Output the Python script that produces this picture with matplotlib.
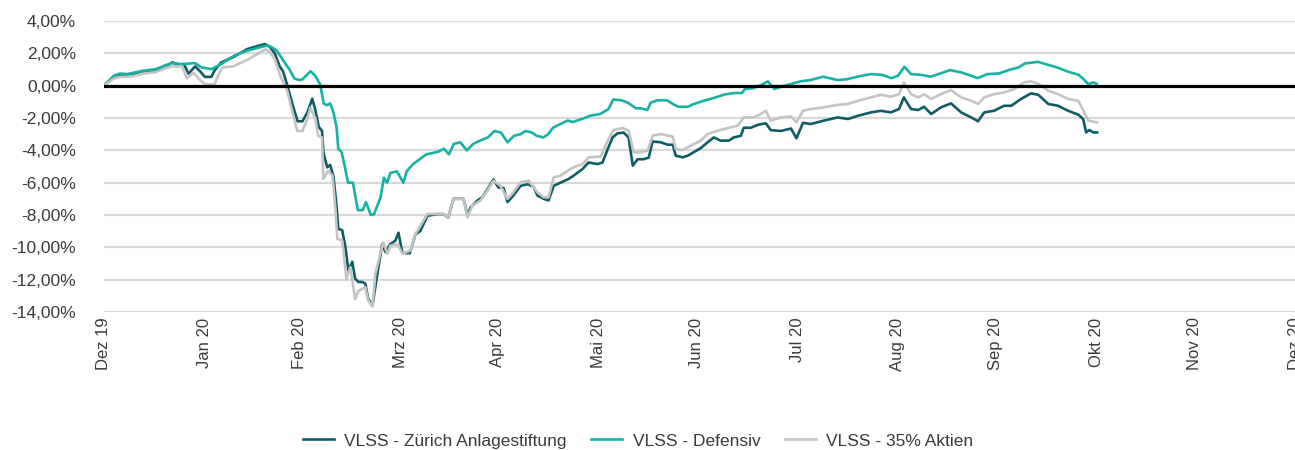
import numpy as np
import pandas as pd
import matplotlib
matplotlib.use("Agg")
import matplotlib.pyplot as plt
import matplotlib.dates as mdates
from matplotlib.ticker import FuncFormatter

plt.rcParams['font.family'] = ['Liberation Sans', 'DejaVu Sans']

# days since 31.12.2019 and cumulative performance in %
zurich_days = [0, 3, 5, 7, 9, 12, 16, 19, 21, 23, 24.5, 26, 28, 29.5, 31, 33, 34, 36, 40, 44, 47,
               49.5, 51, 52.5, 54, 55, 56.3, 58, 59.5, 61, 62.5, 64, 65, 66, 67, 67.5, 68.6, 69.5,
               70.5, 71.4, 72, 73.2, 74.2, 75.1, 76.3, 77.2, 78.2, 79.4, 80.3, 81.2, 82.5, 84,
               85.5, 86.5, 88, 89.5, 90.5, 91.7, 94, 95.7, 97.2, 99.4, 102.5, 104.3, 105.8, 107.4,
               110.5, 111.7, 112.6, 114.8, 116.3, 118.2, 119.7, 121.2, 122.8, 124, 125.8, 128,
               130.2, 132, 133.2, 135.1, 136.6, 138.2, 140.3, 142.8, 144.3, 147.1, 148.9, 151.7,
               153.2, 154.8, 156.3, 157.8, 159.7, 161.2, 162.5, 164, 165.8, 167.4, 168.6, 171.1,
               173.2, 174.8, 175.7, 177.8, 179.4, 181.2, 183.4, 185.5, 187.4, 189.5, 192, 193.5,
               195.7, 196.6, 198.8, 201.2, 203.4, 204.9, 208, 211.1, 212.8, 214.8, 217.2, 221.2,
               225.5, 228.6, 231.7, 235.7, 238.8, 241.8, 244.3, 245.8, 248, 250.2, 252, 254.2,
               257.2, 260.3, 263.4, 266.5, 268.6, 270.5, 273.5, 276.6, 278.8, 281.8, 284.9, 287.1,
               290.2, 293.2, 296.3, 299.4, 300.9, 301.8, 302.8, 304, 305.2]
zurich = [0, 0.55, 0.6, 0.6, 0.7, 0.8, 0.95, 1.2, 1.45, 1.3, 1.35, 0.75, 1.2, 0.9, 0.55, 0.55, 0.95,
          1.44, 1.8, 2.27, 2.45, 2.58, 2.4, 2.0, 1.2, 0.9, 0.05, -1.2, -2.2, -2.2, -1.65, -0.8,
          -1.55, -2.55, -2.8, -4.2, -5.05, -4.9, -5.6, -7.3, -8.85, -8.95, -10.0, -11.45, -10.9,
          -11.95, -12.15, -12.15, -12.25, -13.2, -13.6, -11.65, -9.8, -10.3, -9.8, -9.6, -9.1,
          -10.35, -10.37, -9.2, -9.0, -8.05, -7.95, -7.95, -8.15, -7.0, -7.0, -8.05, -7.55, -7.1,
          -6.9, -6.3, -5.8, -6.3, -6.33, -7.2, -6.8, -6.2, -6.1, -6.25, -6.8, -7.0, -7.1, -6.2,
          -6.0, -5.77, -5.57, -5.15, -4.75, -4.85, -4.75, -3.92, -3.2, -2.95, -2.9, -3.2, -4.95,
          -4.55, -4.55, -4.45, -3.45, -3.5, -3.65, -3.65, -4.33, -4.43, -4.33, -4.12, -3.86, -3.5,
          -3.2, -3.4, -3.4, -3.2, -3.1, -2.6, -2.6, -2.4, -2.33, -2.75, -2.8, -2.65, -3.25, -2.3,
          -2.37, -2.16, -1.96, -2.06, -1.86, -1.65, -1.55, -1.65, -1.44, -0.72, -1.44, -1.5,
          -1.3, -1.75, -1.34, -1.09, -1.65, -1.96, -2.2, -1.65, -1.55, -1.24, -1.24, -0.82,
          -0.47, -0.56, -1.13, -1.24, -1.55, -1.79, -2.06, -2.89, -2.74, -2.89, -2.89]

defensiv_days = [0, 3, 5, 7, 9, 12, 16, 19, 21, 24, 28, 30, 33, 36, 40, 44, 47, 50, 51, 53, 55, 57,
                 58.5, 60, 61, 63.5, 65, 66.5, 67.5, 68.5, 69.5, 70.5, 71.5, 72, 73, 74, 75, 76.5,
                 78, 79.5, 80.5, 82, 83, 85, 86, 87, 88, 90, 92, 93, 95, 97, 99, 102.5, 104.5,
                 106, 107.5, 109.5, 111.5, 113.5, 115.5, 118, 120, 122, 124, 126, 128, 129.5,
                 131.5, 133, 135, 136.5, 138, 140, 142.5, 144, 147, 149.5, 152.5, 155, 156.5,
                 159, 161, 163.5, 165, 167, 168, 170, 173, 175, 176.5, 179.5, 181, 184, 187.5,
                 190.5, 193.5, 196, 197, 199.5, 202, 204, 206, 209, 211, 214, 217, 221, 225.5,
                 228.5, 231.5, 235.5, 239, 242, 244, 246, 248, 251, 254, 257, 260, 263.5, 266.5,
                 268.5, 271.5, 275, 278, 281, 283, 287, 290, 293, 296, 299.5, 301, 302.5, 304, 305]
defensiv = [0, 0.62, 0.76, 0.72, 0.8, 0.93, 1.03, 1.28, 1.4, 1.34, 1.4, 1.13, 1.03, 1.34, 1.86,
            2.17, 2.33, 2.48, 2.45, 2.2, 1.6, 1.0, 0.45, 0.35, 0.4, 0.9, 0.6, 0.05, -1.1, -1.2,
            -1.1, -1.65, -2.6, -3.9, -4.1, -5.0, -6.0, -6.0, -7.7, -7.7, -7.2, -8.0, -7.95, -6.9,
            -5.7, -6.0, -5.4, -5.3, -6.0, -5.3, -4.85, -4.55, -4.25, -4.1, -3.9, -4.25, -3.6,
            -3.5, -4.0, -3.6, -3.4, -3.2, -2.8, -2.9, -3.5, -3.1, -3.0, -2.8, -2.9, -3.1, -3.2,
            -3.0, -2.6, -2.4, -2.15, -2.25, -2.05, -1.85, -1.75, -1.45, -0.85, -0.9, -1.05, -1.4,
            -1.4, -1.5, -1.05, -0.9, -0.9, -1.15, -1.3, -1.3, -1.15, -0.95, -0.75, -0.55, -0.45,
            -0.45, -0.2, -0.15, 0.05, 0.27, -0.2, 0.0, 0.1, 0.27, 0.35, 0.56, 0.35, 0.41, 0.56,
            0.72, 0.68, 0.47, 0.62, 1.18, 0.72, 0.68, 0.56, 0.76, 0.97, 0.82, 0.62, 0.47, 0.72,
            0.76, 0.97, 1.13, 1.38, 1.48, 1.3, 1.13, 0.89, 0.68, 0.41, 0.1, 0.21, 0.12]

aktien_days = [0, 3, 5, 7, 9, 12, 16, 19, 21, 24, 25.5, 27.5, 29.5, 31, 34, 35, 36.3, 39.7, 44, 47,
               49.5, 51, 52.6, 54.2, 56.3, 57.8, 59.4, 61, 62.5, 63.4, 65, 65.8, 67, 67.4, 68.9,
               70.2, 71.1, 71.7, 73.2, 74.5, 75.7, 77.2, 78.2, 80.3, 81.2, 82.5, 83.4, 84.9, 85.8,
               87.1, 88, 90.2, 91.7, 94.2, 95.7, 99.4, 104.3, 105.8, 107.4, 110.5, 111.7, 113.2,
               115.7, 117.8, 119.7, 121.8, 124, 125.8, 128, 130.5, 133.2, 135.1, 136.6, 138.2,
               140.3, 142.5, 144.3, 147.1, 148.9, 152.6, 154.8, 156.6, 159.4, 161.2, 162.8, 164.9,
               167.1, 168.6, 171.1, 174.8, 175.7, 177.8, 180.3, 183.4, 185.5, 188.6, 191.7, 194.8,
               196.6, 199.7, 201.8, 203.4, 204.9, 208, 211.1, 212.8, 214.8, 217.2, 221.2, 225.5,
               228.6, 231.7, 235.7, 238.8, 241.8, 244.3, 245.8, 248, 250.2, 252, 254.2, 257.2,
               260.3, 263.4, 266.5, 268.6, 270.5, 273.5, 276.6, 279.7, 282.8, 284.9, 287.4, 290.2,
               293.2, 296.3, 299.4, 300.9, 302.5, 305.2]
aktien = [0, 0.45, 0.55, 0.55, 0.6, 0.75, 0.85, 1.1, 1.2, 1.2, 0.45, 0.8, 0.35, 0.1, 0.1, 0.6,
          1.13, 1.2, 1.6, 1.95, 2.25, 2.1, 1.6, 0.6, -0.3, -1.55, -2.8, -2.8, -2.06, -1.35, -2.06,
          -3.1, -3.2, -5.77, -5.26, -5.57, -7.53, -9.48, -9.59, -11.96, -11.24, -13.2, -12.7,
          -12.47, -13.3, -13.67, -11.65, -10.4, -9.7, -10.4, -9.9, -9.8, -10.4, -10.2, -9.18,
          -7.94, -7.94, -8.14, -7.0, -7.0, -8.14, -7.42, -7.1, -6.5, -5.88, -6.19, -7.0, -6.6,
          -5.98, -5.88, -6.6, -6.9, -6.9, -5.67, -5.57, -5.26, -5.05, -4.85, -4.43, -4.39, -3.4,
          -2.74, -2.62, -2.78, -4.12, -4.12, -4.02, -3.09, -2.99, -3.15, -3.92, -3.98, -3.71,
          -3.4, -2.99, -2.78, -2.62, -2.47, -1.96, -1.96, -1.75, -1.55, -2.16, -1.96, -1.9,
          -2.27, -1.55, -1.44, -1.34, -1.18, -1.13, -0.93, -0.72, -0.56, -0.68, -0.52, 0.21,
          -0.52, -0.72, -0.52, -0.82, -0.52, -0.27, -0.72, -0.93, -1.13, -0.72, -0.52, -0.41,
          -0.21, 0.21, 0.27, 0.1, -0.31, -0.52, -0.82, -0.93, -1.5, -2.16, -2.27]

month_ends = pd.date_range("2019-12-31", "2020-12-31", freq="ME")
month_labels = ["Dez 19", "Jan 20", "Feb 20", "Mrz 20", "Apr 20", "Mai 20", "Jun 20",
                "Jul 20", "Aug 20", "Sep 20", "Okt 20", "Nov 20", "Dez 20"]
series_names = ["VLSS - Zürich Anlagestiftung", "VLSS - Defensiv", "VLSS - 35% Aktien"]
colors = ["#0f5d64", "#17b2a3", "#c4c4c4"]

start = pd.Timestamp("2019-12-31")


def to_dates(days):
    return [start + pd.Timedelta(days=d) for d in days]


fig = plt.figure(figsize=(12.95, 4.5), dpi=100)
ax = fig.add_axes([0.0803, 0.307, 0.9197, 0.646])

ax.plot(to_dates(zurich_days), zurich, color=colors[0], lw=1.9, label=series_names[0], zorder=3)
ax.plot(to_dates(defensiv_days), defensiv, color=colors[1], lw=1.9, label=series_names[1], zorder=3)
ax.plot(to_dates(aktien_days), aktien, color=colors[2], lw=1.9, label=series_names[2], zorder=3)
ax.axhline(0, color="black", lw=2.3, zorder=5)

ax.set_ylim(-14, 4)
ax.set_yticks(np.arange(-14, 5, 2))
ax.yaxis.set_major_formatter(FuncFormatter(lambda v, _: f"{v:.2f}%".replace(".", ",")))
ax.set_xlim(month_ends[0], month_ends[-1])
ax.set_xticks(month_ends)
ax.set_xticklabels(month_labels, rotation=90, ha="center", va="top")

ax.grid(axis="y", color="#d9d9d9", lw=1.6, zorder=0)
ax.set_axisbelow(True)
for s in ax.spines.values():
    s.set_visible(False)
ax.tick_params(axis="y", length=0, pad=20, labelsize=12.5, labelcolor="#3a3a3a")
ax.tick_params(axis="x", length=0, pad=4, labelsize=12, labelcolor="#3a3a3a")

fig.legend(loc="center", bbox_to_anchor=(638 / 1295, 1 - 441 / 450), ncol=3, frameon=False,
           fontsize=12.5, handlelength=1.8, handletextpad=0.6, columnspacing=1.4,
           labelcolor="#3a3a3a")

fig.savefig("out.png", dpi=100)
